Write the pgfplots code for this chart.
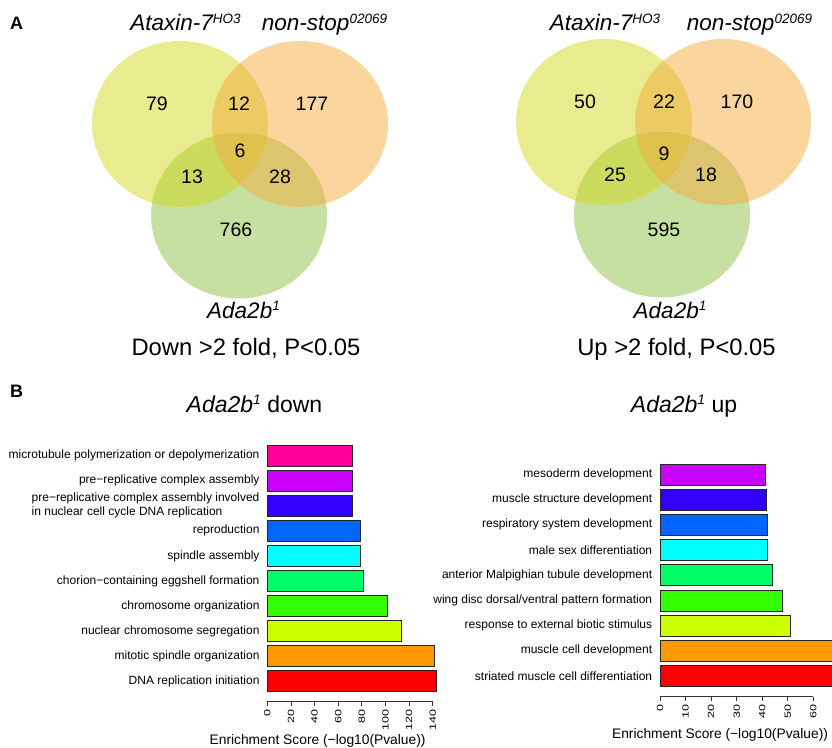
\documentclass[border=0pt]{standalone}
\usepackage{fontspec}
\setmainfont{Liberation Sans}
\usepackage{graphicx}
\usepackage{pgfplots}
\pgfplotsset{compat=1.18}
\definecolor{vy}{HTML}{D1D71D}
\definecolor{vo}{HTML}{F5AB3D}
\definecolor{vg}{HTML}{8BC141}
\definecolor{c1}{HTML}{FF0000}
\definecolor{c2}{HTML}{FF9900}
\definecolor{c3}{HTML}{CCFF00}
\definecolor{c4}{HTML}{33FF00}
\definecolor{c5}{HTML}{00FF66}
\definecolor{c6}{HTML}{00FFFF}
\definecolor{c7}{HTML}{0066FF}
\definecolor{c8}{HTML}{3300FF}
\definecolor{c9}{HTML}{CC00FF}
\definecolor{c10}{HTML}{FF0099}
\newcommand{\fs}[1]{\fontsize{#1}{#1}\selectfont}
\newcommand{\sups}[1]{\raisebox{0.33em}{\scalebox{0.6}{#1}}}
\pgfplotsset{
  barax/.style={
    scale only axis, clip=false,
    axis x line*=bottom, axis y line*=left,
    y axis line style={draw=none},
    x axis line style={-, black!80, line width=0.8pt},
    ytick style={draw=none},
    xtick style={black!80, line width=0.8pt},
    major tick length=4.3pt, tick align=outside,
    xticklabel={\scalebox{1}[0.72]{\pgfmathprintnumber{\tick}}},
    xticklabel style={rotate=90, anchor=east, font=\fs{12.5}},
    yticklabel style={font=\fs{12}, anchor=east},
    /pgf/number format/assume math mode=true,
    xlabel={Enrichment Score (−log10(Pvalue))},
  },
  bb/.style={xbar, bar shift=0pt, draw=black!85, line width=0.7pt, fill=#1},
  venn/.style={only marks, draw=none, mark=*, mark size=83pt,
    mark options={xscale=1.06, draw=none, draw opacity=0, fill=#1, fill opacity=0.5}},
}
\begin{document}
\begin{tikzpicture}
\useasboundingbox (0pt,0pt) rectangle (832pt,747pt);
% ---------- Venn canvas (pixel coordinates, y downward) ----------
\begin{axis}[at={(0pt,0pt)}, anchor=south west, scale only axis,
  width=832pt, height=747pt, xmin=0, xmax=832, ymin=0, ymax=747,
  y dir=reverse, hide axis, clip=false]
\addplot[venn=vg] coordinates {(239,215.5) (662,214.5)};
\addplot[venn=vy] coordinates {(180,124) (604,122)};
\addplot[venn=vo] coordinates {(300,124) (723,122)};
\addplot[draw=none, mark=none, nodes near coords, point meta=explicit symbolic,
  nodes near coords align={center},
  every node near coord/.append style={font=\fs{19.5}, text=black, inner sep=0pt}]
  table[meta=n, row sep=\\] {
  x y n\\
  157 103.3 79\\
  239 103.3 12\\
  312 103.3 177\\
  240 150.7 6\\
  192 176.7 13\\
  280 176.7 28\\
  236 230 766\\
  585 101.7 50\\
  664 101.7 22\\
  737 101.7 170\\
  664 153.3 9\\
  615 175 25\\
  706 175 18\\
  664 229.3 595\\
  };
\node[anchor=base west, font=\fs{18}\bfseries, inner sep=0pt] at (axis cs:10,29.3) {A};
\node[anchor=base west, font=\fs{18}\bfseries, inner sep=0pt] at (axis cs:10,397.3) {B};
\node[anchor=base, font=\fs{22.5}\itshape, inner sep=0pt] at (axis cs:185.5,30.7) {Ataxin-7\sups{HO3}};
\node[anchor=base, font=\fs{22.5}\itshape, inner sep=0pt] at (axis cs:324.5,30.7) {non-stop\sups{02069}};
\node[anchor=base, font=\fs{22.5}\itshape, inner sep=0pt] at (axis cs:243.5,318) {Ada2b\sups{1}};
\node[anchor=base, font=\fs{23.8}, inner sep=0pt] at (axis cs:246,355) {Down >2 fold, P<0.05};
\node[anchor=base, font=\fs{22.5}\itshape, inner sep=0pt] at (axis cs:605,30.7) {Ataxin-7\sups{HO3}};
\node[anchor=base, font=\fs{22.5}\itshape, inner sep=0pt] at (axis cs:749.5,30.7) {non-stop\sups{02069}};
\node[anchor=base, font=\fs{22.5}\itshape, inner sep=0pt] at (axis cs:670,318) {Ada2b\sups{1}};
\node[anchor=base, font=\fs{23.8}, inner sep=0pt] at (axis cs:676.5,355) {Up >2 fold, P<0.05};
\node[anchor=base, font=\fs{23}, inner sep=0pt] at (axis cs:254.5,412) {\itshape Ada2b\sups{1}\upshape{} down};
\node[anchor=base, font=\fs{23}, inner sep=0pt] at (axis cs:684,412) {\itshape Ada2b\sups{1}\upshape{} up};
\end{axis}
% ---------- Ada2b down bar chart ----------
\begin{axis}[barax, at={(267.3pt,45.3pt)}, anchor=south west,
  width=165.4pt, height=258.4pt, xmin=0, xmax=140, ymin=0.173, ymax=10.5,
  xtick={0,20,...,140}, ytick={1,...,10},
  yticklabels={DNA replication initiation, mitotic spindle organization,
    nuclear chromosome segregation, chromosome organization,
    chorion−containing eggshell formation, spindle assembly, reproduction,
    {{\fontsize{12}{14.3}\selectfont\begin{tabular}{@{}l@{}}pre−replicative complex assembly involved\\in nuclear cell cycle DNA replication\end{tabular}}},
    pre−replicative complex assembly,
    microtubule polymerization or depolymerization},
  xlabel style={at={(axis description cs:0.304,-0.1637)}, anchor=base, font=\fs{13.8}, inner sep=0pt}]
\addplot[bb=c1, bar width=20.8pt] coordinates {(143.4,1)};
\addplot[bb=c2, bar width=20.8pt] coordinates {(141.1,2)};
\addplot[bb=c3, bar width=20.8pt] coordinates {(113.8,3)};
\addplot[bb=c4, bar width=20.8pt] coordinates {(101.9,4)};
\addplot[bb=c5, bar width=20.8pt] coordinates {(81.3,5)};
\addplot[bb=c6, bar width=20.8pt] coordinates {(78.8,6)};
\addplot[bb=c7, bar width=20.8pt] coordinates {(78.5,7)};
\addplot[bb=c8, bar width=20.8pt] coordinates {(72.3,8)};
\addplot[bb=c9, bar width=20.8pt] coordinates {(72.2,9)};
\addplot[bb=c10, bar width=20.8pt] coordinates {(72.0,10)};
\end{axis}
% ---------- Ada2b up bar chart ----------
\begin{axis}[barax, clip=true, at={(660pt,50.3pt)}, anchor=south west,
  width=172pt, height=234.8pt, xmin=0, xmax=67.3, ymin=0.178, ymax=9.5,
  x axis line style={shorten >=18.7pt},
  xtick={0,10,...,60}, ytick={1,...,9},
  yticklabels={striated muscle cell differentiation, muscle cell development,
    response to external biotic stimulus,
    wing disc dorsal/ventral pattern formation,
    anterior Malpighian tubule development, male sex differentiation,
    respiratory system development, muscle structure development,
    mesoderm development},
  xlabel style={at={(axis description cs:0.349,-0.180)}, anchor=base, font=\fs{13.8}, inner sep=0pt}]
\addplot[bb=c1, bar width=21pt] coordinates {(70,1)};
\addplot[bb=c2, bar width=21pt] coordinates {(68.5,2)};
\addplot[bb=c3, bar width=21pt] coordinates {(51.0,3)};
\addplot[bb=c4, bar width=21pt] coordinates {(47.8,4)};
\addplot[bb=c5, bar width=21pt] coordinates {(43.9,5)};
\addplot[bb=c6, bar width=21pt] coordinates {(42.1,6)};
\addplot[bb=c7, bar width=21pt] coordinates {(41.9,7)};
\addplot[bb=c8, bar width=21pt] coordinates {(41.5,8)};
\addplot[bb=c9, bar width=21pt] coordinates {(41.1,9)};
\end{axis}
\end{tikzpicture}
\end{document}
